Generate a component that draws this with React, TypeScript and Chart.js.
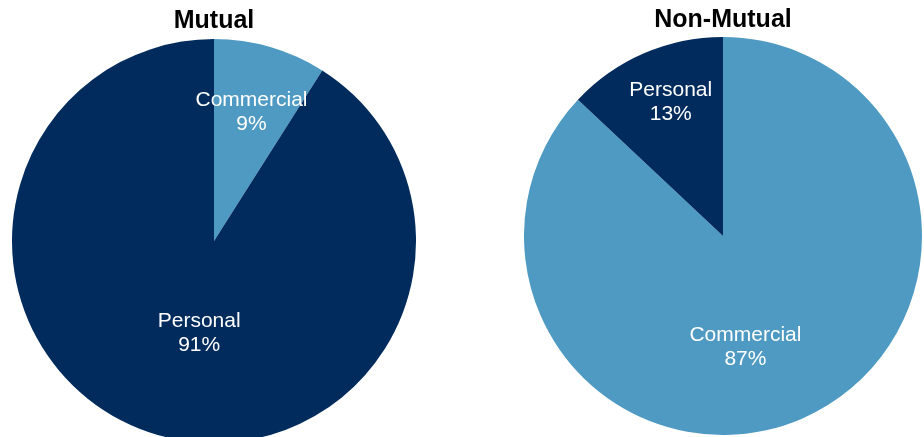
import React, { useEffect, useRef } from "react";
import { Chart, registerables } from "chart.js";

Chart.register(...registerables);

const categories = ["Commercial", "Personal"];
const mutualValues = [9, 91];
const nonMutualValues = [87, 13];
const chartTitles = ["Mutual", "Non-Mutual"];
const sliceColors = ["#4F9AC3", "#012B5D"];

const FONT = "'Liberation Sans', Arial, Helvetica, sans-serif";

const sliceLabelPlugin = {
  id: "sliceLabels",
  afterDatasetsDraw(chart: any, _args: any, opts: any) {
    const ctx = chart.ctx;
    const meta = chart.getDatasetMeta(0);
    const data = chart.data.datasets[0].data as number[];
    const total = data.reduce((a, b) => a + b, 0);
    ctx.save();
    ctx.fillStyle = "#ffffff";
    ctx.font = `${opts.size}px ${FONT}`;
    ctx.textAlign = "center";
    ctx.textBaseline = "middle";
    meta.data.forEach((arc: any, i: number) => {
      const p = arc.getProps(["x", "y", "startAngle", "endAngle", "outerRadius"], true);
      const mid = (p.startAngle + p.endAngle) / 2 + ((opts.shift[i] || 0) * Math.PI) / 180;
      const r = p.outerRadius * opts.radial[i];
      const px = p.x + Math.cos(mid) * r;
      const py = p.y + Math.sin(mid) * r;
      const pct = Math.round((data[i] / total) * 100) + "%";
      ctx.fillText(chart.data.labels[i], px, py - opts.lineGap / 2);
      ctx.fillText(pct, px, py + opts.lineGap / 2);
    });
    ctx.restore();
  },
};

function PieChart(props: {
  values: number[];
  title: string;
  left: number;
  width: number;
  height: number;
  padTop: number;
  padBottom: number;
  radial: number[];
  shift: number[];
}) {
  const ref = useRef<HTMLCanvasElement>(null);
  useEffect(() => {
    if (!ref.current) return;
    const chart = new Chart(ref.current, {
      type: "pie",
      data: {
        labels: categories,
        datasets: [
          {
            data: props.values,
            backgroundColor: sliceColors,
            borderWidth: 0,
          },
        ],
      },
      options: {
        responsive: false,
        animation: false,
        layout: { padding: 0 },
        plugins: {
          legend: { display: false },
          tooltip: { enabled: false },
          title: {
            display: true,
            text: props.title,
            color: "#000000",
            font: { family: FONT, size: 25, weight: "bold", lineHeight: 1 },
            padding: { top: props.padTop, bottom: props.padBottom },
          },
          sliceLabels: {
            size: 21,
            lineGap: 24,
            radial: props.radial,
            shift: props.shift,
          },
        } as any,
      },
      plugins: [sliceLabelPlugin],
    });
    return () => chart.destroy();
  }, []);
  return (
    <div style={{ position: "absolute", left: props.left, top: 0, width: props.width, height: props.height }}>
      <canvas
        ref={ref}
        width={props.width}
        height={props.height}
        style={{ width: props.width, height: props.height, display: "block" }}
      />
    </div>
  );
}

export default function App() {
  return (
    <div
      style={{
        position: "absolute",
        left: 0,
        top: 0,
        width: 924,
        height: 437,
        overflow: "hidden",
        background: "#ffffff",
      }}
    >
      <PieChart
        values={mutualValues}
        title={chartTitles[0]}
        left={12}
        width={404}
        height={443}
        padTop={9}
        padBottom={5}
        radial={[0.665, 0.46]}
        shift={[0, -7]}
      />
      <PieChart
        values={nonMutualValues}
        title={chartTitles[1]}
        left={524}
        width={398}
        height={435}
        padTop={8}
        padBottom={4}
        radial={[0.57, 0.72]}
        shift={[12, 2]}
      />
    </div>
  );
}
